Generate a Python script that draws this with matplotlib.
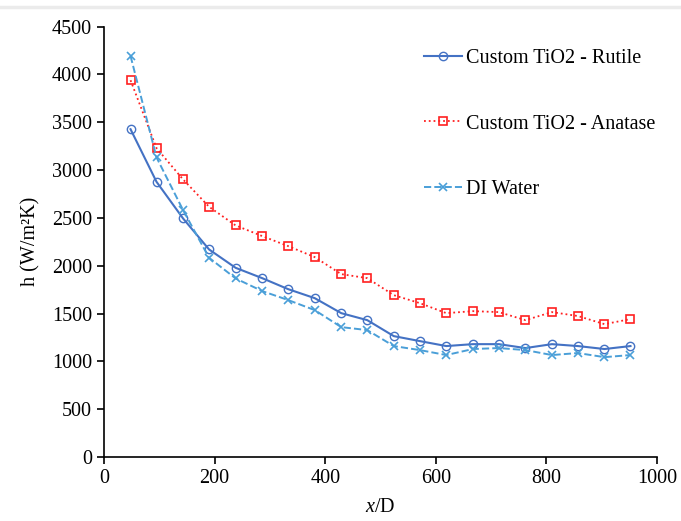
import matplotlib
matplotlib.use("Agg")
import matplotlib.pyplot as plt
from matplotlib.lines import Line2D

plt.rcParams['font.family'] = ['Liberation Serif', 'DejaVu Serif']
plt.rcParams['mathtext.fontset'] = 'custom'
plt.rcParams['mathtext.rm'] = 'Liberation Serif'
plt.rcParams['mathtext.it'] = 'Liberation Serif:italic'

# x/D positions
x_d = [48, 95, 143, 190, 238, 286, 333, 381, 429, 476,
       524, 571, 619, 667, 714, 762, 810, 857, 905, 952]

# heat transfer coefficient h (W/m2K)
rutile = [3427, 2877, 2494, 2170, 1978, 1870, 1755, 1661, 1504, 1431,
          1264, 1212, 1160, 1180, 1180, 1139, 1180, 1160, 1129, 1160]
anatase = [3939, 3229, 2902, 2616, 2421, 2310, 2205, 2090, 1912, 1870,
           1692, 1609, 1504, 1525, 1515, 1431, 1515, 1474, 1389, 1442]
di_water = [4193, 3132, 2581, 2083, 1867, 1735, 1641, 1536, 1358, 1327,
            1160, 1118, 1066, 1129, 1139, 1118, 1066, 1087, 1044, 1066]

labels = ['Custom TiO2 - Rutile', 'Custom TiO2 - Anatase', 'DI Water']

fs = 14.5

fig = plt.figure(figsize=(6.81, 5.21), dpi=100)
ax = fig.add_axes([0.1527, 0.1228, 0.8121, 0.8262])

ax.plot(x_d, rutile, '-', color='#4472C4', lw=1.5, marker='o', ms=6,
        mfc='none', mec='#4472C4', mew=1.0, label=labels[0])
ax.plot(x_d, anatase, ':', color='#FF2020', lw=1.3, marker='s', ms=6,
        mfc='none', mec='#FF2020', mew=1.2, label=labels[1])
ax.plot(x_d, di_water, '--', color='#4A9FD8', lw=1.4, marker='x', ms=6,
        mec='#4A9FD8', mew=1.2, label=labels[2])

ax.set_xlim(0, 1000)
ax.set_ylim(0, 4500)
ax.set_xticks(range(0, 1001, 200))
ax.set_yticks(range(0, 4501, 500))

for s in ['top', 'right']:
    ax.spines[s].set_visible(False)
for s in ['left', 'bottom']:
    ax.spines[s].set_linewidth(1.2)
ax.tick_params(direction='out', length=5, width=1.2, labelsize=fs)

ax.set_xlabel('$x$/D', fontsize=fs, labelpad=7)
ax.set_ylabel('h (W/m\u00b2K)', fontsize=fs, labelpad=8)

ax.legend(loc='upper left', bbox_to_anchor=(0.545, 0.99), frameon=False,
          fontsize=fs, labelspacing=2.3, handlelength=1.9, handletextpad=0.2)

# thin grey rule at the top of the image
fig.add_artist(Line2D([0, 1], [1 - 7 / 521, 1 - 7 / 521], color='#ebebeb',
                      lw=2.5, transform=fig.transFigure))

fig.savefig('out.png', dpi=100)
